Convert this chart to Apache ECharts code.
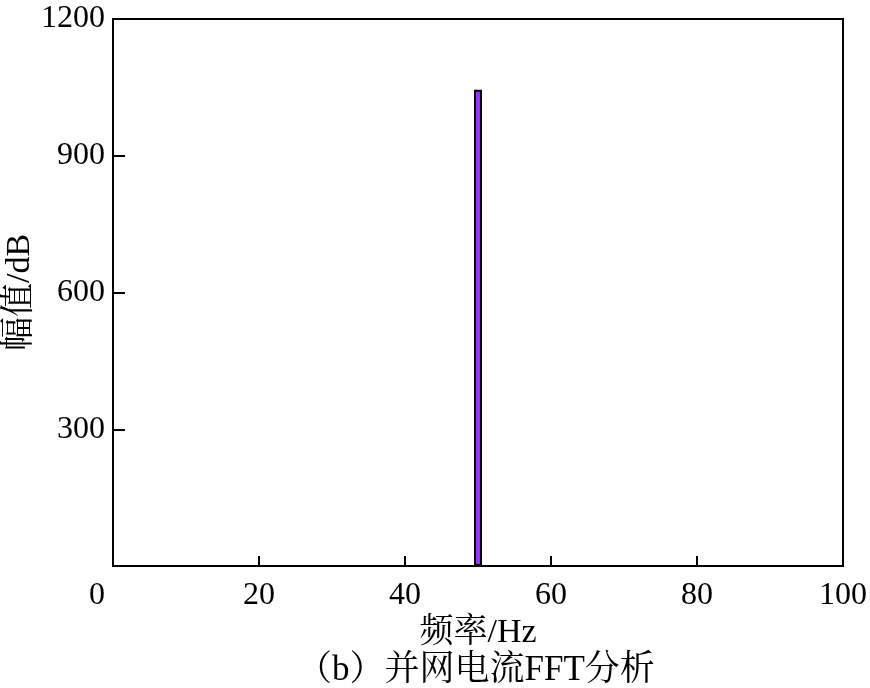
<!DOCTYPE html>
<html>
<head>
<meta charset="utf-8">
<script src="https://cdn.jsdelivr.net/npm/echarts@6/dist/echarts.min.js"></script>
<style>html,body{margin:0;padding:0;background:#fff;}#c{width:870px;height:688px;}</style>
</head>
<body>
<div id="c"></div>
<script>
var titleText = '（b）并网电流FFT分析';
var xName = '频率/Hz';
var yName = '幅值/dB';
var freqs = [50];
var amps = [1045];
var xTicks = [0, 20, 40, 60, 80, 100];
var yTicks = [0, 300, 600, 900, 1200];

var serif = "'Times New Roman','Liberation Serif','Noto Serif CJK SC','Noto Sans CJK SC',serif";
var chart = echarts.init(document.getElementById('c'));
var data = freqs.map(function (f, i) { return [f, amps[i]]; });
chart.setOption({
  animation: false,
  backgroundColor: '#fff',
  title: {
    text: titleText, left: 292, top: 648,
    textStyle: { fontFamily: serif, fontSize: 35, fontWeight: 'normal', color: '#000' }
  },
  grid: { left: 113, right: 27, top: 19, bottom: 122, containLabel: false, outerBoundsMode: 'none', show: true, borderColor: '#000', borderWidth: 2, backgroundColor: 'transparent' },
  xAxis: {
    type: 'value', min: xTicks[0], max: xTicks[xTicks.length - 1], interval: 20,
    name: xName, nameLocation: 'middle', nameGap: 50, nameMoveOverlap: false,
    nameTextStyle: { fontFamily: serif, fontSize: 34, color: '#000' },
    axisLine: { show: true, lineStyle: { color: '#000', width: 2 } },
    axisTick: { show: true, inside: true, length: 10, lineStyle: { color: '#000', width: 2 } },
    splitLine: { show: false },
    axisLabel: {
      margin: 14, color: '#000', fontFamily: serif, fontSize: 32,
      formatter: function (v) { return v === 0 ? '{z|0}' : String(v); },
      rich: { z: { fontFamily: serif, fontSize: 32, color: '#000', padding: [0, 32, 0, 0] } }
    }
  },
  yAxis: {
    type: 'value', min: yTicks[0], max: yTicks[yTicks.length - 1], interval: 300,
    name: yName, nameLocation: 'middle', nameGap: 76, nameRotate: 90, nameMoveOverlap: false,
    nameTextStyle: { fontFamily: serif, fontSize: 34, color: '#000' },
    axisLine: { show: true, lineStyle: { color: '#000', width: 2 } },
    axisTick: { show: true, inside: true, length: 12, lineStyle: { color: '#000', width: 2 } },
    splitLine: { show: false },
    axisLabel: {
      margin: 8, color: '#000', fontFamily: serif, fontSize: 32,
      formatter: function (v) { return v === 0 ? '' : String(v); }
    }
  },
  series: [{
    type: 'bar', data: data, barWidth: 8,
    itemStyle: { color: '#9933ff', borderColor: '#000', borderWidth: 2 }
  }]
});
</script>
</body>
</html>
